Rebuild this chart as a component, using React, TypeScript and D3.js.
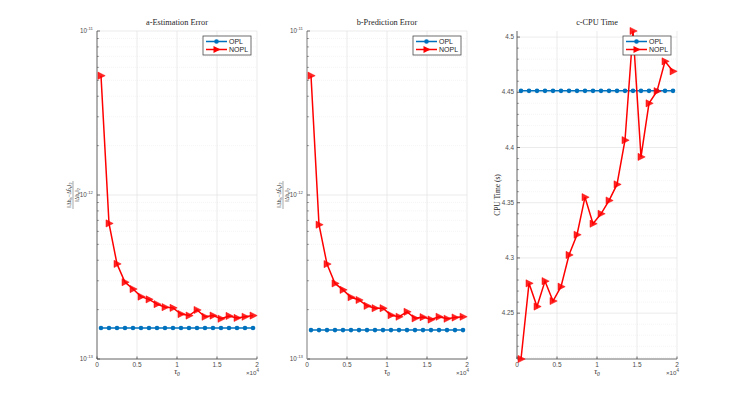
import React from "react";
import * as d3 from "d3";

const xValues = [500, 1500, 2500, 3500, 4500, 5500, 6500, 7500, 8500, 9500, 10500, 11500, 12500, 13500, 14500, 15500, 16500, 17500, 18500, 19500];

const estOPL = [1.545e-13, 1.545e-13, 1.545e-13, 1.545e-13, 1.545e-13, 1.545e-13, 1.545e-13, 1.545e-13, 1.545e-13, 1.545e-13, 1.545e-13, 1.545e-13, 1.545e-13, 1.545e-13, 1.545e-13, 1.545e-13, 1.545e-13, 1.545e-13, 1.545e-13, 1.545e-13];
const estNOPL = [5.34e-12, 6.71e-13, 3.8e-13, 2.94e-13, 2.67e-13, 2.4e-13, 2.31e-13, 2.16e-13, 2.07e-13, 2.05e-13, 1.88e-13, 1.84e-13, 1.99e-13, 1.81e-13, 1.84e-13, 1.76e-13, 1.83e-13, 1.78e-13, 1.81e-13, 1.84e-13];

const predOPL = [1.5e-13, 1.5e-13, 1.5e-13, 1.5e-13, 1.5e-13, 1.5e-13, 1.5e-13, 1.5e-13, 1.5e-13, 1.5e-13, 1.5e-13, 1.5e-13, 1.5e-13, 1.5e-13, 1.5e-13, 1.5e-13, 1.5e-13, 1.5e-13, 1.5e-13, 1.5e-13];
const predNOPL = [5.34e-12, 6.59e-13, 3.79e-13, 2.89e-13, 2.64e-13, 2.38e-13, 2.29e-13, 2.11e-13, 2.04e-13, 2.04e-13, 1.85e-13, 1.81e-13, 1.94e-13, 1.77e-13, 1.8e-13, 1.74e-13, 1.81e-13, 1.76e-13, 1.79e-13, 1.81e-13];

const cpuOPL = [4.4513, 4.4513, 4.4513, 4.4513, 4.4513, 4.4513, 4.4513, 4.4513, 4.4513, 4.4513, 4.4513, 4.4513, 4.4513, 4.4513, 4.4513, 4.4513, 4.4513, 4.4513, 4.4513, 4.4513];
const cpuNOPL = [4.2085, 4.277, 4.256, 4.279, 4.261, 4.274, 4.3027, 4.321, 4.355, 4.331, 4.34, 4.352, 4.3666, 4.4066, 4.5055, 4.3915, 4.44, 4.451, 4.478, 4.469];

const xTicks = [0, 5000, 10000, 15000, 20000];
const xTickLabels = ["0", "0.5", "1", "1.5", "2"];
const logTicks = [1e-13, 1e-12, 1e-11];
const logTickExp = ["-13", "-12", "-11"];
const cpuTicks = [4.25, 4.3, 4.35, 4.4, 4.45, 4.5];
const cpuTickLabels = ["4.25", "4.3", "4.35", "4.4", "4.45", "4.5"];
const titles = ["a-Estimation Error", "b-Prediction Error", "c-CPU Time"];
const seriesNames = ["OPL", "NOPL"];

const BLUE = "#0072BD";
const RED = "#FF0000";
const AX = "#4a4a4a";
const TXT = "#262626";
const TICKTXT = "#4d4d4d";
const GRID = "#e3e3e3";
const MINOR = "#efefef";
const SANS = "Liberation Sans, Arial, sans-serif";
const SERIF = "Liberation Serif, Times New Roman, serif";

const TOP = 31;
const BOTTOM = 359;
const W = 160;
const panelX = [97, 307, 517];

function tri(x: number, y: number) {
  return `M${x - 3},${y - 3.6}L${x - 3},${y + 3.6}L${x + 4.2},${y}Z`;
}

function Legend({ x0 }: { x0: number }) {
  const right = x0 + W - 6;
  const left = right - 48;
  return (
    <g>
      <rect x={left} y={36} width={48} height={19} fill="white" stroke={AX} strokeWidth={0.8} />
      <line x1={left + 3} x2={left + 24} y1={41.5} y2={41.5} stroke={BLUE} strokeWidth={1.5} />
      <circle cx={left + 13.5} cy={41.5} r={2.3} fill={BLUE} />
      <text x={left + 26} y={44} fontSize={7} fontFamily={SANS} fill={TXT}>{seriesNames[0]}</text>
      <line x1={left + 3} x2={left + 24} y1={49.5} y2={49.5} stroke={RED} strokeWidth={1.5} />
      <path d={tri(left + 13.5, 49.5)} fill={RED} />
      <text x={left + 26} y={52} fontSize={7} fontFamily={SANS} fill={TXT}>{seriesNames[1]}</text>
    </g>
  );
}

function XAxis({ x0, xs }: { x0: number; xs: d3.ScaleLinear<number, number> }) {
  return (
    <g>
      {xTicks.map((t, i) => (
        <g key={i}>
          <line x1={xs(t)} x2={xs(t)} y1={TOP} y2={BOTTOM} stroke={GRID} strokeWidth={0.7} />
        </g>
      ))}
      <line x1={x0} x2={x0 + W} y1={BOTTOM} y2={BOTTOM} stroke={AX} strokeWidth={0.8} />
      {xTicks.map((t, i) => (
        <g key={"l" + i}>
          <line x1={xs(t)} x2={xs(t)} y1={BOTTOM} y2={BOTTOM - 2.5} stroke={AX} strokeWidth={0.8} />
          <text x={xs(t)} y={BOTTOM + 7.5} fontSize={6.5} textAnchor="middle" fontFamily={SANS} fill={TICKTXT}>{xTickLabels[i]}</text>
        </g>
      ))}
      <text x={x0 + W + 2} y={BOTTOM + 15.5} fontSize={6.2} textAnchor="end" fontFamily={SANS} fill={TICKTXT}>
        ×10<tspan dy={-3} fontSize={4.5}>4</tspan>
      </text>
      <text x={x0 + W / 2} y={BOTTOM + 15} fontSize={8} textAnchor="middle" fontFamily={SERIF} fontStyle="italic" fill={TXT}>
        τ<tspan dy={2} fontSize={5.5}>0</tspan>
      </text>
    </g>
  );
}

function LogPanel({ idx, opl, nopl, thickLeft }: { idx: number; opl: number[]; nopl: number[]; thickLeft?: boolean }) {
  const x0 = panelX[idx];
  const xs = d3.scaleLinear().domain([0, 20000]).range([x0, x0 + W]);
  const ys = d3.scaleLog().domain([1e-13, 1e-11]).range([BOTTOM, TOP]);
  const minors: number[] = [];
  for (const d of [1e-13, 1e-12]) for (let k = 2; k <= 9; k++) minors.push(k * d);
  const line = d3.line<number>().x((_, i) => xs(xValues[i])).y((v) => ys(v));
  const cy = (TOP + BOTTOM) / 2;
  const lx = x0 - 24;
  return (
    <g>
      {minors.map((m, i) => (
        <line key={i} x1={x0} x2={x0 + W} y1={ys(m)} y2={ys(m)} stroke={MINOR} strokeWidth={0.6} strokeDasharray="1,1" />
      ))}
      {logTicks.map((t, i) => (
        <line key={i} x1={x0} x2={x0 + W} y1={ys(t)} y2={ys(t)} stroke={GRID} strokeWidth={0.7} />
      ))}
      <XAxis x0={x0} xs={xs} />
      <line x1={x0} x2={x0} y1={TOP} y2={BOTTOM} stroke={thickLeft ? "#bdbdbd" : AX} strokeWidth={thickLeft ? 2 : 0.8} />
      {minors.map((m, i) => (
        <line key={"mt" + i} x1={x0} x2={x0 + 1.8} y1={ys(m)} y2={ys(m)} stroke={AX} strokeWidth={0.6} />
      ))}
      {logTicks.map((t, i) => (
        <g key={"t" + i}>
          <line x1={x0} x2={x0 + 3} y1={ys(t)} y2={ys(t)} stroke={AX} strokeWidth={0.8} />
          <text x={x0 - 4} y={ys(t) + 2} fontSize={6.3} textAnchor="end" fontFamily={SANS} fill={TICKTXT}>
            10<tspan dy={-3} fontSize={4.3}>{logTickExp[i]}</tspan>
          </text>
        </g>
      ))}
      <text x={x0 + W / 2} y={TOP - 6} fontSize={8.3} textAnchor="middle" fontFamily={SERIF} fill={TXT}>{titles[idx]}</text>
      <g transform={`translate(${lx},${cy}) rotate(-90)`}>
        <text x={0} y={-2} fontSize={5.5} textAnchor="middle" fontFamily={SERIF} fill={TXT}>
          ‖Δb<tspan fontSize={4} dy={1}>n</tspan><tspan dy={-1}>−Δb̂</tspan><tspan fontSize={4} dy={1}>n</tspan><tspan dy={-1}>‖</tspan><tspan fontSize={4} dy={1}>2</tspan>
        </text>
        <line x1={-14} x2={14} y1={0} y2={0} stroke={TXT} strokeWidth={0.4} />
        <text x={0} y={5.5} fontSize={5.5} textAnchor="middle" fontFamily={SERIF} fill={TXT}>
          ‖Δb<tspan fontSize={4} dy={1}>n</tspan><tspan dy={-1}>‖</tspan><tspan fontSize={4} dy={1}>2</tspan>
        </text>
      </g>
      <path d={line(opl) || ""} fill="none" stroke={BLUE} strokeWidth={1.5} />
      {opl.map((v, i) => (
        <circle key={"o" + i} cx={xs(xValues[i])} cy={ys(v)} r={2.3} fill={BLUE} />
      ))}
      <path d={line(nopl) || ""} fill="none" stroke={RED} strokeWidth={1.5} />
      {nopl.map((v, i) => (
        <path key={"n" + i} d={tri(xs(xValues[i]), ys(v))} fill={RED} fillOpacity={0.85} stroke={RED} strokeWidth={0.5} />
      ))}
      <Legend x0={x0} />
    </g>
  );
}

function CpuPanel() {
  const idx = 2;
  const x0 = panelX[idx];
  const xs = d3.scaleLinear().domain([0, 20000]).range([x0, x0 + W]);
  const all = cpuOPL.concat(cpuNOPL);
  const ys = d3.scaleLinear().domain([d3.min(all) as number, d3.max(all) as number]).range([BOTTOM, TOP]);
  const minors = d3.range(4.21, 4.505, 0.01).filter((m) => !cpuTicks.some((t) => Math.abs(t - m) < 1e-6));
  const line = d3.line<number>().x((_, i) => xs(xValues[i])).y((v) => ys(v));
  return (
    <g>
      {minors.map((m, i) => (
        <line key={i} x1={x0} x2={x0 + W} y1={ys(m)} y2={ys(m)} stroke={MINOR} strokeWidth={0.6} strokeDasharray="1,1" />
      ))}
      {cpuTicks.map((t, i) => (
        <line key={i} x1={x0} x2={x0 + W} y1={ys(t)} y2={ys(t)} stroke={GRID} strokeWidth={0.7} />
      ))}
      <XAxis x0={x0} xs={xs} />
      <line x1={x0} x2={x0} y1={TOP} y2={BOTTOM} stroke={AX} strokeWidth={0.8} />
      {minors.map((m, i) => (
        <line key={"mt" + i} x1={x0} x2={x0 + 1.8} y1={ys(m)} y2={ys(m)} stroke={AX} strokeWidth={0.6} />
      ))}
      {cpuTicks.map((t, i) => (
        <g key={"t" + i}>
          <line x1={x0} x2={x0 + 3} y1={ys(t)} y2={ys(t)} stroke={AX} strokeWidth={0.8} />
          <text x={x0 - 3} y={ys(t) + 2.2} fontSize={6.3} textAnchor="end" fontFamily={SANS} fill={TICKTXT}>{cpuTickLabels[i]}</text>
        </g>
      ))}
      <text x={x0 + W / 2} y={TOP - 6} fontSize={8.3} textAnchor="middle" fontFamily={SERIF} fill={TXT}>{titles[idx]}</text>
      <text transform={`translate(${x0 - 17},${(TOP + BOTTOM) / 2}) rotate(-90)`} fontSize={7.5} textAnchor="middle" fontFamily={SERIF} fill={TXT}>CPU Time (s)</text>
      <path d={line(cpuOPL) || ""} fill="none" stroke={BLUE} strokeWidth={1.5} />
      {cpuOPL.map((v, i) => (
        <circle key={"o" + i} cx={xs(xValues[i])} cy={ys(v)} r={2.3} fill={BLUE} />
      ))}
      <path d={line(cpuNOPL) || ""} fill="none" stroke={RED} strokeWidth={1.5} />
      {cpuNOPL.map((v, i) => (
        <path key={"n" + i} d={tri(xs(xValues[i]), ys(v))} fill={RED} fillOpacity={0.85} stroke={RED} strokeWidth={0.5} />
      ))}
      <Legend x0={x0} />
    </g>
  );
}

export default function App() {
  return (
    <svg width={747} height={403} style={{ position: "absolute", left: 0, top: 0, background: "white" }}>
      <rect x={0} y={0} width={747} height={403} fill="white" />
      <LogPanel idx={0} opl={estOPL} nopl={estNOPL} />
      <LogPanel idx={1} opl={predOPL} nopl={predNOPL} thickLeft />
      <CpuPanel />
    </svg>
  );
}
